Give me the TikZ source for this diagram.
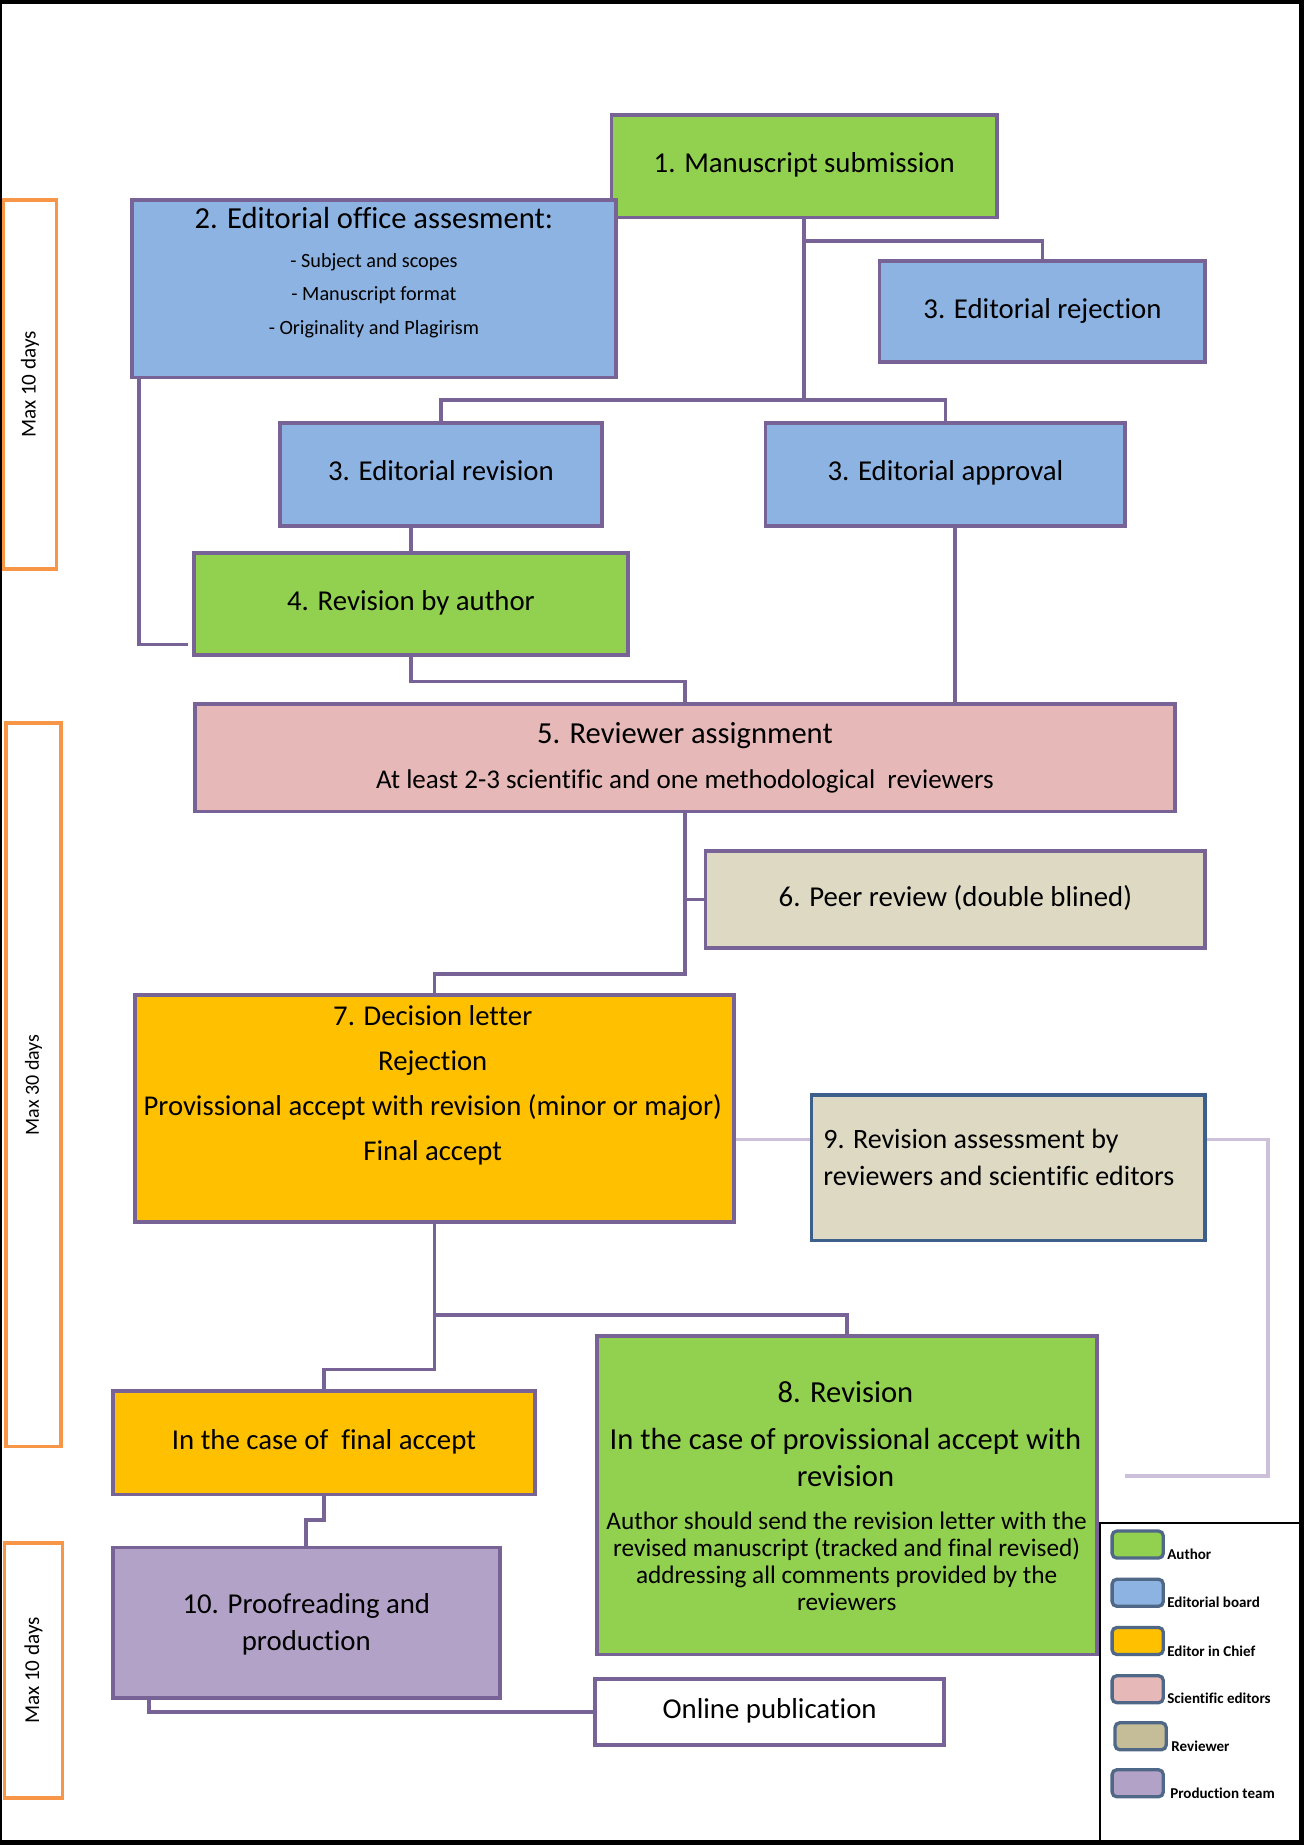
\documentclass[tikz,border=0pt]{standalone}
\usepackage{fontspec}
\setmainfont{Carlito}[Ligatures=NoCommon]
\newcommand\myfs[1]{\fontsize{#1pt}{#1pt}\selectfont}
\definecolor{bord}{RGB}{120,99,150}
\definecolor{bord9}{RGB}{60,95,140}
\definecolor{lightc}{RGB}{204,192,218}
\definecolor{cgreen}{RGB}{146,208,80}
\definecolor{cblue}{RGB}{141,179,226}
\definecolor{cpink}{RGB}{230,185,184}
\definecolor{ctan}{RGB}{221,217,195}
\definecolor{ctand}{RGB}{196,189,151}
\definecolor{corange}{RGB}{255,192,0}
\definecolor{cpurple}{RGB}{179,162,199}
\definecolor{ctime}{RGB}{247,150,70}
\definecolor{swb}{RGB}{80,104,135}
\begin{document}
\begin{tikzpicture}[x=1pt,y=-1pt,
  box/.style={draw=bord, line width=3.2pt, inner sep=0pt, align=center,
    font=\myfs{24.5}, text height=1.3em, text depth=0.2em},
  lbl/.style={inner sep=0pt, text height=1.3em, text depth=0.2em},
  conn/.style={draw=bord, line width=3.2pt},
  lightconn/.style={draw=lightc, line width=3.2pt},
  timebox/.style={draw=ctime, line width=3pt, fill=white, inner sep=0pt},
  swatch/.style={draw=swb, line width=2.8pt, rounded corners=4pt, inner sep=0pt,
    minimum width=43.5pt, minimum height=23pt},
  legtext/.style={inner sep=0pt, anchor=west, font=\myfs{12.8}\bfseries,
    text height=1.08em, text depth=0.2em}]
% frame
\fill[black] (0,0) rectangle (1109,1569);
\fill[white] (1.5,3.5) rectangle (1105,1565);
\useasboundingbox (0,0) rectangle (1109,1569);

% time boxes
\node[timebox, minimum width=45pt, minimum height=314pt] (tA) at (25.5,327) {};
\node[rotate=90, font=\myfs{18}, inner sep=0pt] (tAl) at (tA) {Max 10 days};
\node[timebox, minimum width=47pt, minimum height=615pt] (tB) at (28.5,922.5) {};
\node[rotate=90, font=\myfs{17}, inner sep=0pt] (tBl) at (tB) {Max 30 days};
\node[timebox, minimum width=49pt, minimum height=217pt] (tC) at (28.5,1420.5) {};
\node[rotate=90, font=\myfs{18}, inner sep=0pt] (tCl) at (tC) {Max 10 days};

% boxes
\node[box, fill=cgreen, minimum width=328pt, minimum height=87pt] (n1) at (684,141.5) {1. Manuscript submission};
\node[box, fill=cblue, minimum width=412pt, minimum height=151pt] (n2) at (318,245.5) {};
\node[box, fill=cblue, minimum width=277pt, minimum height=86pt] (n3rej) at (886.5,265) {3. Editorial rejection};
\node[box, fill=cblue, minimum width=274pt, minimum height=87pt] (n3rev) at (375,403.5) {3. Editorial revision};
\node[box, fill=cblue, minimum width=306pt, minimum height=87pt] (n3app) at (804,403.5) {3. Editorial approval};
\node[box, fill=cgreen, minimum width=369pt, minimum height=87pt] (n4) at (349.5,513.5) {4. Revision by author};
\node[box, fill=cpink, minimum width=833pt, minimum height=91pt] (n5) at (582.5,644.5) {};
\node[box, fill=ctan, minimum width=425pt, minimum height=82pt] (n6) at (812.5,765) {6. Peer review (double blined)};
\node[box, fill=corange, minimum width=509pt, minimum height=193pt] (n7) at (369.5,942.5) {};
\node[box, draw=bord9, fill=ctan, minimum width=335pt, minimum height=124pt] (n9) at (857.5,993) {};
\node[box, fill=cgreen, minimum width=425pt, minimum height=271pt] (n8) at (720.5,1271.5) {};
\node[box, fill=corange, minimum width=359pt, minimum height=88pt] (nfa) at (275.5,1227) {In the case of~ final accept};
\node[box, fill=cpurple, minimum width=329pt, minimum height=128pt] (n10) at (260.5,1380) {};
\node[box, fill=white, minimum width=297pt, minimum height=56pt] (nop) at (654.5,1456) {Online publication};

% multi-line texts
\node[lbl, font=\myfs{26}] (t2a) at (318,189) {2. Editorial office assesment:};
\node[lbl, font=\myfs{17.2}] (t2b) at (318,222) {- Subject and scopes};
\node[lbl, font=\myfs{17.2}] (t2c) at (318,250) {- Manuscript format};
\node[lbl, font=\myfs{17.2}] (t2d) at (318,279) {- Originality and Plagirism};

\node[lbl, font=\myfs{26}] (t5a) at (582.5,627) {5. Reviewer assignment};
\node[lbl, font=\myfs{23}] (t5b) at (582.5,665) {At least 2-3 scientific and one methodological~ reviewers};

\node[lbl, font=\myfs{24.4}] (t7a) at (368,867) {7. Decision letter};
\node[lbl, font=\myfs{24.4}] (t7b) at (368,905) {Rejection};
\node[lbl, font=\myfs{24.4}] (t7c) at (368,943) {Provissional accept with revision (minor or major)};
\node[lbl, font=\myfs{24.4}] (t7d) at (368,981) {Final accept};

\node[lbl, font=\myfs{23.8}, anchor=west] (t9a) at (700,971) {9. Revision assessment by};
\node[lbl, font=\myfs{23.8}, anchor=west] (t9b) at (700,1003) {reviewers and scientific editors};

\node[lbl, font=\myfs{26}] (t8a) at (719,1187) {8. Revision};
\node[lbl, font=\myfs{26}] (t8b) at (719,1227) {In the case of provissional accept with};
\node[lbl, font=\myfs{26}] (t8c) at (719,1259) {revision};
\node[lbl, font=\myfs{21.5}] (t8d) at (720,1295) {Author should send the revision letter with the};
\node[lbl, font=\myfs{21.5}] (t8e) at (720,1318) {revised manuscript (tracked and final revised)};
\node[lbl, font=\myfs{21.5}] (t8f) at (720,1341) {addressing all comments provided by the};
\node[lbl, font=\myfs{21.5}] (t8g) at (720,1364) {reviewers};

\node[lbl, font=\myfs{24.5}] (t10a) at (260.5,1367) {10. Proofreading and};
\node[lbl, font=\myfs{24.5}] (t10b) at (260.5,1398) {production};

% connectors
\coordinate (j0) at (684,205);
\coordinate (j1) at (684,340);
\coordinate (y969) at (0,969);
\coordinate (y1118) at (0,1118);
\coordinate (c4l) at (160,548);
\coordinate (c9r) at (1078,1255);
\coordinate (c8r) at (957,1255);

\draw[conn] (n1.south) -- (j1);
\draw[conn] (j0) -| (n3rej.north);
\draw[conn] (n3rev.north) |- (j1) -| (n3app.north);
\draw[conn] ([xshift=8pt]n2.south west) |- (c4l);
\draw[conn] (n4.north |- n3rev.south) -- (n4.north);
\draw[conn] (n4.south) -- ++(0,21) -| (n5.north);
\draw[conn] ([xshift=8pt]n3app.south) -- ([xshift=8pt]n3app.south |- n5.north);
\draw[conn] (n5.south) -- ++(0,137) -| (n7.north);
\draw[conn] (n5.south |- n6.west) -- (n6.west);
\draw[lightconn] (n7.east |- y969) -- (n9.west |- y969);
\draw[lightconn] (n9.east |- y969) -| (c9r) -- (c8r);
\draw[conn] (n7.south) -- ++(0,124) -| (nfa.north);
\draw[conn] (n7.south |- y1118) -| (n8.north);
\draw[conn] (nfa.south) -- ++(0,20) -| (n10.north);
\draw[conn] ([xshift=32pt]n10.south west) |- (nop.west);

% legend
\draw[black, line width=1.5pt] (1105,1295) -- (935.5,1295) -- (935.5,1565);
\node[swatch, fill=cgreen] (s1) at (967.5,1313.5) {};
\node[legtext] (l1) at (992.5,1322) {Author};
\node[swatch, fill=cblue] (s2) at (967.5,1354.5) {};
\node[legtext] (l2) at (992.5,1363) {Editorial board};
\node[swatch, fill=corange] (s3) at (967.5,1395.5) {};
\node[legtext] (l3) at (992.5,1404) {Editor in Chief};
\node[swatch, fill=cpink] (s4) at (967.5,1436.5) {};
\node[legtext] (l4) at (992.5,1444) {Scientific editors};
\node[swatch, fill=ctand] (s5) at (970,1476.5) {};
\node[legtext] (l5) at (996,1485) {Reviewer};
\node[swatch, fill=cpurple] (s6) at (967.5,1516.5) {};
\node[legtext] (l6) at (995,1525) {Production team};
\end{tikzpicture}
\end{document}
